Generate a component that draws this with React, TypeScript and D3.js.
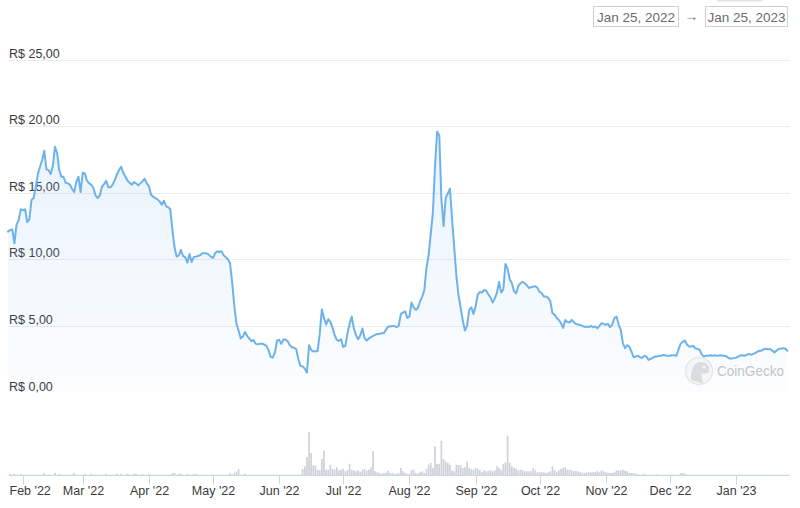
import React from 'react';
import * as d3 from 'd3';

const START_DATE = '2022-01-25';
const END_DATE = '2023-01-25';

// Daily price (R$), Jan 25 2022 -> Jan 25 2023
const prices: number[] = [
  12.08, 12.2, 12.25, 11.2, 12.6, 12.95, 13.75, 13.7, 13.75, 12.8,
  13.0, 14.45, 14.6, 15.45, 16.4, 16.95, 17.45, 18.15, 16.75, 16.7,
  16.4, 17.0, 18.45, 18.0, 16.7, 16.2, 16.2, 15.75, 15.7, 15.6,
  15.3, 15.05, 15.8, 16.2, 15.05, 16.5, 16.45, 15.9, 15.7, 15.6,
  15.35, 14.8, 14.6, 14.8, 15.45, 15.65, 15.9, 15.4, 15.4, 15.6,
  15.95, 16.35, 16.7, 16.95, 16.5, 16.2, 15.9, 15.75, 15.6, 15.8,
  15.7, 15.55, 15.7, 15.85, 16.05, 15.7, 15.5, 14.85, 14.7, 14.6,
  14.5, 14.35, 14.1, 14.4, 14.0, 13.9, 13.75, 12.2, 10.9, 10.2,
  10.3, 10.7, 10.25, 10.15, 9.75, 10.4, 9.8, 10.15, 10.2, 10.25,
  10.3, 10.45, 10.45, 10.45, 10.35, 10.2, 10.1, 10.45, 10.6, 10.55,
  10.6, 10.3, 10.15, 10.0, 9.7, 8.25, 6.5, 5.15, 4.65, 4.05,
  4.2, 4.55, 4.25, 4.05, 3.85, 3.95, 3.65, 3.62, 3.65, 3.68,
  3.6, 3.5, 3.2, 2.68, 2.62, 3.0, 3.9, 3.95, 3.65, 3.97,
  3.98, 3.85, 3.55, 3.4, 3.35, 3.25, 2.5, 2.0, 1.95, 1.8,
  1.5, 3.55, 3.2, 3.08, 3.1, 3.1, 4.4, 6.25, 5.6, 5.1,
  5.5, 5.3, 4.85, 4.3, 3.95, 3.88, 4.0, 3.42, 3.5, 4.45,
  5.15, 5.7, 4.8, 4.3, 4.0, 4.3, 4.8, 4.1, 3.9, 4.05,
  4.15, 4.25, 4.32, 4.4, 4.4, 4.45, 4.45, 4.7, 4.95, 4.95,
  5.0, 5.0, 4.9, 5.0, 5.9, 6.0, 6.1, 5.6, 5.7, 6.75,
  6.4, 6.2, 6.35, 6.85, 7.2, 7.7, 9.35, 10.3, 11.9, 13.5,
  17.0, 19.6, 19.3, 14.5, 12.5, 14.6, 14.95, 15.3, 13.0, 10.9,
  8.8, 7.3, 6.4, 5.4, 4.65, 5.0, 6.2, 6.4, 5.9, 6.45,
  7.35, 7.55, 7.5, 7.7, 7.65, 7.35, 7.15, 6.75, 7.05, 7.5,
  8.3, 7.5, 7.75, 9.65, 9.3, 8.5, 8.2, 7.6, 7.45, 8.0,
  8.2, 8.3, 8.2, 8.05, 7.85, 7.9, 7.95, 7.98, 7.85, 7.55,
  7.45, 7.2, 7.2, 7.1, 6.85, 5.95, 5.85, 5.6, 5.45, 5.2,
  4.85, 5.45, 5.3, 5.25, 5.45, 5.3, 5.15, 5.1, 5.07, 5.0,
  4.92, 4.95, 4.9, 5.0, 4.9, 4.95, 4.82, 5.0, 5.2, 5.15,
  5.08, 5.15, 4.9, 5.1, 5.58, 5.7, 5.1, 4.7, 3.7, 3.33,
  3.55, 3.45, 3.08, 2.65, 2.7, 2.75, 2.65, 2.6, 2.75, 2.7,
  2.45, 2.52, 2.62, 2.7, 2.7, 2.75, 2.75, 2.83, 2.78, 2.75,
  2.75, 2.8, 2.8, 2.75, 3.2, 3.65, 3.8, 3.9, 3.6, 3.45,
  3.45, 3.5, 3.3, 3.28, 3.2, 2.83, 2.7, 2.75, 2.75, 2.8,
  2.75, 2.8, 2.75, 2.78, 2.8, 2.75, 2.75, 2.65, 2.55, 2.55,
  2.58, 2.62, 2.7, 2.78, 2.8, 2.75, 2.83, 2.9, 2.83, 2.9,
  2.95, 3.08, 3.12, 3.15, 3.25, 3.28, 3.25, 3.25, 3.15, 3.0,
  3.15, 3.28, 3.28, 3.33, 3.3, 3.13,
];

// Daily trading volume (R$ thousands)
const volumes: number[] = [
  3, 12, 3, 12, 3, 3, 12, 3, 3, 3,
  3, 3, 3, 3, 3, 3, 3, 20, 3, 3,
  3, 3, 22, 3, 10, 3, 3, 3, 3, 3,
  3, 22, 3, 3, 3, 3, 12, 3, 3, 12,
  3, 3, 3, 3, 3, 3, 12, 3, 3, 3,
  3, 12, 3, 12, 3, 3, 15, 3, 3, 12,
  12, 3, 3, 10, 3, 3, 12, 3, 3, 3,
  3, 3, 3, 3, 3, 3, 3, 20, 22, 3,
  12, 10, 3, 3, 10, 3, 3, 10, 10, 3,
  3, 3, 3, 3, 3, 3, 3, 3, 3, 3,
  3, 3, 3, 3, 18, 3, 20, 35, 60, 3,
  3, 12, 3, 3, 3, 3, 3, 3, 3, 3,
  3, 3, 3, 3, 3, 3, 3, 3, 3, 3,
  3, 3, 3, 3, 3, 3, 3, 5, 60, 87,
  177, 427, 220, 97, 93, 53, 47, 160, 243, 53,
  53, 103, 60, 53, 77, 47, 53, 63, 37, 53,
  113, 53, 47, 37, 47, 30, 53, 60, 43, 53,
  77, 237, 37, 27, 20, 10, 20, 23, 43, 20,
  20, 10, 13, 20, 70, 37, 20, 10, 15, 47,
  53, 20, 15, 27, 37, 20, 60, 103, 120, 70,
  287, 110, 113, 343, 160, 137, 120, 103, 47, 37,
  103, 100, 100, 70, 77, 133, 70, 60, 53, 70,
  67, 47, 27, 47, 37, 40, 47, 37, 47, 87,
  70, 53, 110, 127, 393, 120, 87, 70, 63, 47,
  53, 47, 40, 37, 37, 37, 70, 47, 27, 27,
  27, 27, 20, 27, 37, 87, 47, 27, 47, 60,
  70, 77, 53, 53, 47, 37, 37, 37, 27, 25,
  20, 27, 27, 27, 27, 27, 37, 27, 47, 37,
  27, 22, 20, 20, 27, 47, 43, 47, 53, 43,
  37, 20, 20, 20, 13, 10, 3, 3, 13, 3,
  3, 3, 3, 3, 7, 3, 3, 3, 3, 3,
  3, 3, 3, 3, 3, 20, 20, 13, 3, 3,
  3, 3, 3, 3, 3, 3, 3, 3, 3, 3,
  3, 3, 3, 3, 3, 3, 3, 3, 3, 3,
  3, 3, 3, 3, 3, 3, 3, 3, 3, 3,
  3, 3, 3, 3, 3, 3, 3, 3, 3, 3,
  3, 3, 3, 3, 3, 3,
];

const priceTicks = [0, 5, 10, 15, 20, 25];
const monthTicks = [
  '2022-02-01', '2022-03-01', '2022-04-01', '2022-05-01', '2022-06-01', '2022-07-01',
  '2022-08-01', '2022-09-01', '2022-10-01', '2022-11-01', '2022-12-01', '2023-01-01',
];
const rangeLabels = ['Jan 25, 2022', 'Jan 25, 2023'];
const watermark = 'CoinGecko';

const FONT = '"Liberation Sans", Arial, Helvetica, sans-serif';
const LINE = '#6eb2ea';

const utc = (s: string) => new Date(s + 'T00:00:00Z');

export default function App() {
  const W = 800;
  const H = 508;
  const start = utc(START_DATE);
  const dates = prices.map((_, i) => d3.utcDay.offset(start, i));

  const x = d3.scaleUtc().domain([start, utc(END_DATE)]).range([8, 787.3]);
  const y = d3.scaleLinear().domain([0, 25]).range([392.5, 59.5]);
  const yv = d3.scaleLinear().domain([0, 430]).range([475, 432]);

  const line = d3
    .line<number>()
    .x((_, i) => x(dates[i]))
    .y((v) => y(v))
    .curve(d3.curveLinear);
  const area = d3
    .area<number>()
    .x((_, i) => x(dates[i]))
    .y0(y(0))
    .y1((v) => y(v));

  const fmtPrice = (v: number) => 'R$ ' + v.toFixed(2).replace('.', ',');
  const fmtMonth = d3.utcFormat("%b '%y");
  const gridX0 = 9;
  const gridX1 = 790;
  const axisY = 475.5;

  return (
    <svg
      width={W}
      height={H}
      viewBox={`0 0 ${W} ${H}`}
      style={{ position: 'absolute', left: 0, top: 0, display: 'block', background: '#fff' }}
      fontFamily={FONT}
    >
      <defs>
        <linearGradient id="areaGrad" gradientUnits="userSpaceOnUse" x1="0" y1="130" x2="0" y2="392.5">
          <stop offset="0" stopColor="#7cb5ec" stopOpacity={0.17} />
          <stop offset="1" stopColor="#7cb5ec" stopOpacity={0.03} />
        </linearGradient>
      </defs>
      <rect x={0} y={0} width={W} height={H} fill="#fff" />

      {/* date range selector */}
      <rect x={717} y={0} width={45} height={1.5} fill="#e2e2e2" />
      <rect x={593.5} y={6.5} width={85} height={20} fill="#fff" stroke="#cfcfcf" />
      <text x={636} y={21.5} textAnchor="middle" fontSize={13.5} fill="#6b6b6b">{rangeLabels[0]}</text>
      <text x={691.5} y={21} textAnchor="middle" fontSize={14} fill="#777">→</text>
      <rect x={705.5} y={6.5} width={82} height={20} fill="#fff" stroke="#cfcfcf" />
      <text x={746.5} y={21.5} textAnchor="middle" fontSize={13.5} fill="#6b6b6b">{rangeLabels[1]}</text>

      {/* grid + y labels */}
      {priceTicks.map((t) => {
        const yy = Math.round(y(t)) + 0.5;
        return (
          <g key={t}>
            {t > 0 && <line x1={gridX0} x2={gridX1} y1={yy} y2={yy} stroke="#ececec" strokeWidth={1} />}
            <text x={9} y={yy - 2.5} fontSize={12.5} fill="#3a3a3a">{fmtPrice(t)}</text>
          </g>
        );
      })}

      {/* area + line */}
      <path d={area(prices) || ''} fill="url(#areaGrad)" />
      <path d={line(prices) || ''} fill="none" stroke={LINE} strokeWidth={2} strokeLinejoin="round" strokeLinecap="round" />

      {/* watermark */}
      <g opacity={0.6}>
        <circle cx={699} cy={371} r={13.5} fill="#f2f2f2" stroke="#d6d6d6" strokeWidth={1.2} />
        <path d="M691 380 C690 370 694 362 701 362 C707 362 710 366 709 371 C708 374 704 374 702 373 C701 377 702 381 704 384 Z" fill="#c8c8c8" />
        <circle cx={704} cy={367} r={1.6} fill="#f2f2f2" />
        <text x={717} y={375.5} fontSize={15} fill="#9f9f9f" textLength={67} lengthAdjust="spacingAndGlyphs">{watermark}</text>
      </g>

      {/* volume bars */}
      {volumes.map((v, i) => {
        const xx = x(dates[i]);
        const top = yv(v);
        return <rect key={i} x={xx - 0.85} y={top} width={1.7} height={Math.max(0, 475 - top)} fill="#cdd1d8" />;
      })}

      {/* x axis */}
      <line x1={gridX0} x2={gridX1} y1={axisY} y2={axisY} stroke="#ccd6eb" strokeWidth={1} />
      {monthTicks.map((m, i) => {
        const xx = Math.round(x(utc(m))) + 0.5;
        const label = fmtMonth(utc(m));
        return (
          <g key={m}>
            <line x1={xx} x2={xx} y1={axisY} y2={484.5} stroke="#ccd6eb" strokeWidth={1} />
            <text
              x={i === 0 ? 9.5 : xx}
              y={494.5}
              textAnchor={i === 0 ? 'start' : 'middle'}
              fontSize={12.5}
              fill="#3a3a3a"
            >
              {label}
            </text>
          </g>
        );
      })}
    </svg>
  );
}
